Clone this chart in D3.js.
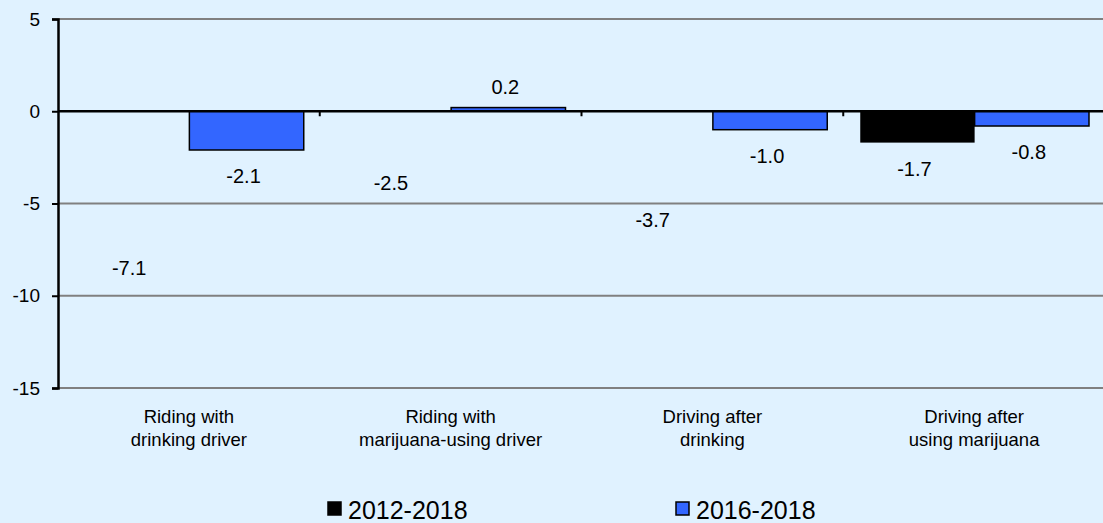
<!DOCTYPE html>
<html>
<head>
<meta charset="utf-8">
<script src="https://cdn.jsdelivr.net/npm/d3@7"></script>
<style>
  body { margin: 0; background: #e0f2ff; }
  svg text { font-family: "Liberation Sans", Arial, sans-serif; fill: #000; }
</style>
</head>
<body>
<svg id="chart" width="1103" height="523"></svg>
<script>
// Change in percentage points by behaviour
var categories = [["Riding with", "drinking driver"], ["Riding with", "marijuana-using driver"],
                  ["Driving after", "drinking"], ["Driving after", "using marijuana"]];
var seriesNames = ["2012-2018", "2016-2018"];
var values2012 = [-7.1, -2.5, -3.7, -1.7];
var values2016 = [-2.1, 0.2, -1.0, -0.8];
// the original only shows the black bar for the last group
var drawn2012 = [false, false, false, true];
var yTicks = [5, 0, -5, -10, -15];

var margin = {top: 19, right: 0, bottom: 135, left: 58},
    width = 1105 - margin.left - margin.right,
    height = 523 - margin.top - margin.bottom;

var svg = d3.select("#chart");
svg.append("rect").attr("width", 1103).attr("height", 523).attr("fill", "#e0f2ff");
var g = svg.append("g").attr("transform", "translate(" + margin.left + "," + margin.top + ")");

var x = d3.scaleBand().domain(d3.range(categories.length)).range([0, width]);
var x1 = d3.scaleBand().domain([0, 1]).range([17, x.bandwidth() - 16]);
var y = d3.scaleLinear().domain([-15, 5]).range([height, 0]);

// gridlines
g.selectAll(".grid").data(yTicks).enter().append("line")
    .attr("x1", 0).attr("x2", width)
    .attr("y1", function(d) { return y(d); })
    .attr("y2", function(d) { return y(d); })
    .attr("stroke", function(d) { return d === 0 ? "none" : "#808080"; })
    .attr("stroke-width", 2);

// y axis
var yAxis = g.append("g").call(d3.axisLeft(y).tickValues(yTicks).tickSize(6).tickPadding(12).tickFormat(d3.format("d")));
yAxis.select(".domain").attr("stroke", "#000").attr("stroke-width", 2.5);
yAxis.selectAll(".tick line").attr("stroke", "#000").attr("stroke-width", 2);
yAxis.selectAll("text").style("font-size", "19px");
yAxis.selectAll(".tick text").text(function(d) { return d < 0 ? "-" + Math.abs(d) : d; });

// bars
var groups = g.selectAll(".cat").data(categories).enter().append("g")
    .attr("transform", function(d, i) { return "translate(" + x(i) + ",0)"; });

groups.append("rect")
    .attr("x", x1(0))
    .attr("width", x1.bandwidth())
    .attr("y", function(d, i) { return y(Math.max(0, values2012[i])); })
    .attr("height", function(d, i) { return Math.abs(y(values2012[i]) - y(0)); })
    .attr("fill", "#000")
    .attr("opacity", function(d, i) { return drawn2012[i] ? 1 : 0; });

groups.append("rect")
    .attr("x", x1(1))
    .attr("width", x1.bandwidth())
    .attr("y", function(d, i) { return y(Math.max(0, values2016[i])); })
    .attr("height", function(d, i) { return Math.abs(y(values2016[i]) - y(0)); })
    .attr("fill", "#3366ff")
    .attr("stroke", "#000")
    .attr("stroke-width", 1.5);

// value labels; push a label below a gridline it would sit on
function labelY(v) {
    if (v >= 0) return y(v) - 14;
    var b = y(v) + 33;
    yTicks.forEach(function(t) {
        var gy = y(t);
        if (gy > b - 16 && gy < b + 2) b = gy + 23;
    });
    return b;
}
groups.append("text")
    .attr("x", x1(0) + x1.bandwidth() / 2 - 3)
    .attr("y", function(d, i) { return labelY(values2012[i]); })
    .attr("text-anchor", "middle").style("font-size", "20px")
    .text(function(d, i) { return values2012[i].toFixed(1); });
groups.append("text")
    .attr("x", x1(1) + x1.bandwidth() / 2 - 3)
    .attr("y", function(d, i) { return labelY(values2016[i]); })
    .attr("text-anchor", "middle").style("font-size", "20px")
    .text(function(d, i) { return values2016[i].toFixed(1); });

// zero line with category ticks
g.append("line").attr("x1", 0).attr("x2", width).attr("y1", y(0)).attr("y2", y(0))
    .attr("stroke", "#000").attr("stroke-width", 2.5);
g.selectAll(".ctick").data(d3.range(1, categories.length)).enter().append("line")
    .attr("x1", function(d) { return x(d); }).attr("x2", function(d) { return x(d); })
    .attr("y1", y(0)).attr("y2", y(0) + 5)
    .attr("stroke", "#000").attr("stroke-width", 2);

// category labels
var cl = g.selectAll(".clabel").data(categories).enter().append("text")
    .attr("text-anchor", "middle")
    .attr("transform", function(d, i) { return "translate(" + (x(i) + x.bandwidth() / 2) + "," + (height + 35) + ")"; })
    .style("font-size", "18.5px");
cl.append("tspan").attr("x", 0).attr("y", 0).text(function(d) { return d[0]; });
cl.append("tspan").attr("x", 0).attr("y", 23).text(function(d) { return d[1]; });

// legend
var legendX = [328, 676], legendFill = ["#000", "#3366ff"];
var lg = svg.selectAll(".legend").data(seriesNames).enter().append("g")
    .attr("transform", function(d, i) { return "translate(" + legendX[i] + ",502)"; });
lg.append("rect").attr("width", 13).attr("height", 13)
    .attr("fill", function(d, i) { return legendFill[i]; })
    .attr("stroke", "#000").attr("stroke-width", 1.5);
lg.append("text").attr("x", 20).attr("y", 17).style("font-size", "25px")
    .text(function(d) { return d; });
</script>
</body>
</html>
